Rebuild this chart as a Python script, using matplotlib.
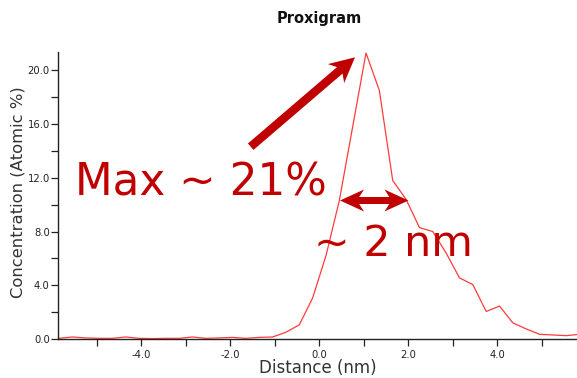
import matplotlib
matplotlib.use("Agg")
import matplotlib.pyplot as plt
from matplotlib.patches import FancyArrow
from matplotlib.ticker import MultipleLocator, FixedLocator

# Proxigram profile: distance from the interface (nm) vs concentration (atomic %)
distance = [-5.85, -5.55, -5.25, -4.95, -4.65, -4.35, -4.05, -3.75, -3.45, -3.15,
            -2.85, -2.55, -2.25, -1.95, -1.65, -1.35, -1.05, -0.75, -0.45, -0.15,
            0.15, 0.45, 0.75, 1.05, 1.35, 1.65, 1.95, 2.25, 2.55, 2.85,
            3.15, 3.45, 3.75, 4.05, 4.35, 4.65, 4.95, 5.25, 5.55, 5.85]
concentration = [0.05, 0.15, 0.08, 0.05, 0.05, 0.15, 0.05, 0.03, 0.05, 0.05,
                 0.15, 0.05, 0.08, 0.12, 0.05, 0.12, 0.15, 0.50, 1.05, 3.05,
                 6.2, 10.3, 15.8, 21.3, 18.5, 11.8, 10.4, 8.3, 8.0, 6.4,
                 4.55, 4.05, 2.05, 2.45, 1.2, 0.75, 0.35, 0.3, 0.25, 0.35]

x_major = [-4.0, -2.0, 0.0, 2.0, 4.0]
y_major = [0.0, 4.0, 8.0, 12.0, 16.0, 20.0]

title_text = "Proxigram"
x_label = "Distance (nm)"
y_label = "Concentration (Atomic %)"
max_note = "Max ~ 21%"
width_note = "~ 2 nm"

W, H = 577, 378
fig = plt.figure(figsize=(W / 100, H / 100), dpi=100)
fig.patch.set_facecolor("white")

ax = fig.add_axes([58 / W, 1 - 339 / H, (W - 58) / W, (339 - 52) / H])
ax.plot(distance, concentration, color="#ff3b3b", lw=0.9, solid_joinstyle="miter")
ax.set_xlim(-5.87, 5.79)
ax.set_ylim(0, 21.37)

for side in ("top", "right"):
    ax.spines[side].set_visible(False)
for side in ("left", "bottom"):
    ax.spines[side].set_color("#222222")
    ax.spines[side].set_linewidth(1.0)

ax.xaxis.set_major_locator(FixedLocator(x_major))
ax.xaxis.set_minor_locator(MultipleLocator(1.0))
ax.yaxis.set_major_locator(FixedLocator(y_major))
ax.yaxis.set_minor_locator(MultipleLocator(2.0))
ax.set_xticklabels([f"{v:.1f}" for v in x_major])
ax.set_yticklabels([f"{v:.1f}" for v in y_major])
ax.tick_params(which="both", direction="out", length=5, width=0.9,
               color="#222222", labelsize=7.2, labelcolor="#222222")
ax.tick_params(axis="x", pad=3)
ax.tick_params(axis="y", pad=1)

# Overlay in pixel units for titles, notes and arrows
ov = fig.add_axes([0, 0, 1, 1], zorder=5)
ov.set_xlim(0, W)
ov.set_ylim(H, 0)
ov.axis("off")
ov.patch.set_alpha(0)

ov.text(319, 18, title_text, ha="center", va="center", fontsize=10.5,
        fontweight="bold", color="#111111")
ov.text(318, 368, x_label, ha="center", va="center", fontsize=12, color="#333333")
ov.text(18, 192, y_label, ha="center", va="center", rotation=90,
        fontsize=11.8, color="#333333")

red = "#c00000"
ov.text(75, 196, max_note, ha="left", va="baseline", fontsize=31.5, color=red)
ov.text(314, 256.5, width_note, ha="left", va="baseline", fontsize=30.8, color=red)

ov.add_patch(FancyArrow(250.7, 146.7, 104.3, -89.4, width=8.5, head_width=25,
                        head_length=25, length_includes_head=True, overhang=0.2,
                        color=red, lw=0))
ov.add_patch(FancyArrow(374, 200.5, -34, 0, width=7, head_width=22,
                        head_length=24, length_includes_head=True, overhang=0.2,
                        color=red, lw=0))
ov.add_patch(FancyArrow(374, 200.5, 34.5, 0, width=7, head_width=22,
                        head_length=24, length_includes_head=True, overhang=0.2,
                        color=red, lw=0))

fig.savefig("out.png", dpi=100)
